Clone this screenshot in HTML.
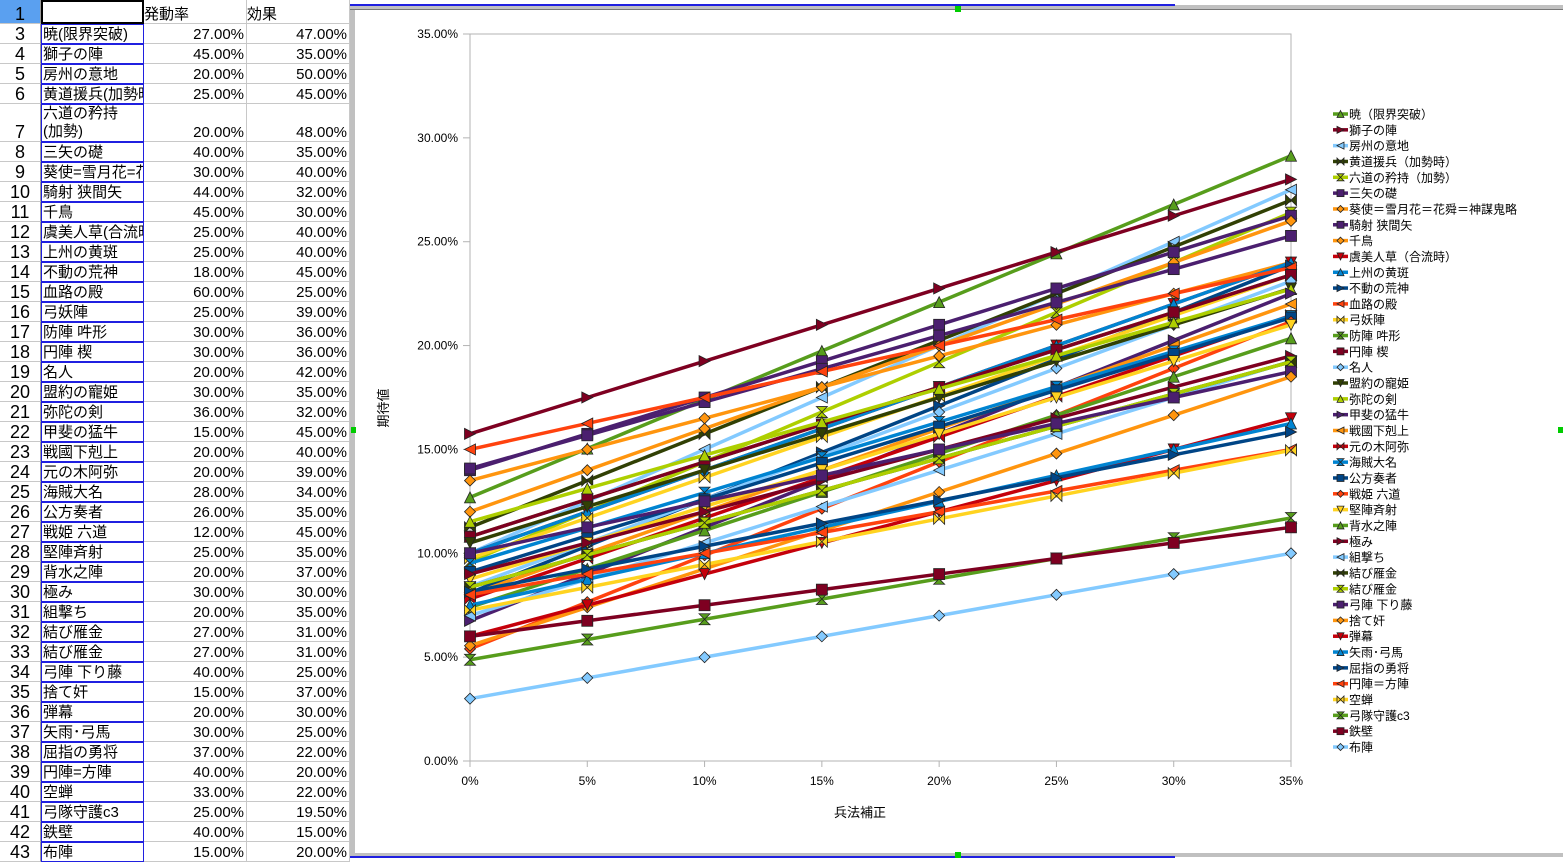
<!DOCTYPE html>
<html><head><meta charset="utf-8"><style>
body{margin:0;width:1563px;height:863px;overflow:hidden;background:#fff;font-family:"Liberation Sans","Noto Sans CJK JP",sans-serif;position:relative}
.c{position:absolute;box-sizing:border-box;font-size:15px;line-height:17px;white-space:nowrap;overflow:hidden;border-right:1px solid #c8c8c8;border-bottom:1px solid #c8c8c8;display:flex;align-items:flex-end}
.rh{justify-content:center;font-size:18px;background:#fff;color:#000;border-right:1px solid #999}
.a{border:1.5px solid #2020e0;padding-left:1px}
.n{justify-content:flex-end;padding-right:2px}
</style></head><body>
<div id="sheet"></div>
<svg id="ch" width="1563" height="863" style="position:absolute;left:0;top:0" font-family="Liberation Sans, Noto Sans CJK JP, sans-serif"></svg>
<script>
const D=[["暁(限界突破)",27,47,"暁(限界突破)"],["獅子の陣",45,35,"獅子の陣"],["房州の意地",20,50,"房州の意地"],["黄道援兵(加勢時)",25,45,"黄道援兵(加勢時)"],["六道の矜持(加勢)",20,48,"六道の矜持<br>(加勢)"],["三矢の礎",40,35],["葵使＝雪月花＝花舜＝神謀鬼略",30,40,"葵使=雪月花=花舜"],["騎射 狭間矢",44,32],["千鳥",45,30],["虞美人草(合流時)",25,40,"虞美人草(合流時)"],["上州の黄斑",25,40],["不動の荒神",18,45],["血路の殿",60,25],["弓妖陣",25,39],["防陣 吽形",30,36],["円陣 楔",30,36],["名人",20,42],["盟約の寵姫",30,35],["弥陀の剣",36,32],["甲斐の猛牛",15,45],["戦國下剋上",20,40],["元の木阿弥",20,39],["海賊大名",28,34],["公方奏者",26,35],["戦姫 六道",12,45],["堅陣斉射",25,35],["背水之陣",20,37],["極み",30,30],["組撃ち",20,35],["結び雁金",27,31],["結び雁金",27,31],["弓陣 下り藤",40,25],["捨て奸",15,37],["弾幕",20,30],["矢雨･弓馬",30,25],["屈指の勇将",37,22],["円陣＝方陣",40,20,"円陣=方陣"],["空蝉",33,22],["弓隊守護c3",25,19.5],["鉄壁",40,15],["布陣",15,20]];
const P=["#004586","#ff420e","#ffd320","#579d1c","#7e0021","#83caff","#314004","#aecf00","#4b1f6f","#ff950e","#c5000b","#0084d1"];
let h="";
h+=`<div class="c rh" style="left:0;top:0;width:41px;height:24px;background:#5aa0f0">1</div>`;
h+=`<div class="c" style="left:41px;top:0;width:103px;height:24px;border:2px solid #000"></div>`;
h+=`<div class="c" style="left:144px;top:0;width:103px;height:24px">発動率</div>`;
h+=`<div class="c" style="left:247px;top:0;width:103px;height:24px">効果</div>`;
let y=24;
D.forEach((d,i)=>{const r=i+3;const ht=r==7?38:20;
h+=`<div class="c rh" style="left:0;top:${y}px;width:41px;height:${ht}px">${r}</div>`;
h+=`<div class="c a" style="left:41px;top:${y}px;width:103px;height:${ht}px;${r==7?'white-space:normal;line-height:18px':''}">${d[3]||d[0]}</div>`;
h+=`<div class="c n" style="left:144px;top:${y}px;width:103px;height:${ht}px">${d[1].toFixed(2)}%</div>`;
h+=`<div class="c n" style="left:247px;top:${y}px;width:103px;height:${ht}px">${d[2].toFixed(2)}%</div>`;
y+=ht;});
document.getElementById("sheet").innerHTML=h;
let s=`<rect x="350" y="5" width="1213" height="852" fill="#c0c0c0"/><rect x="355" y="10" width="1208" height="843" fill="#fff"/><line x1="350" y1="9.5" x2="1563" y2="9.5" stroke="#777"/><line x1="350" y1="5" x2="1175" y2="5" stroke="#2020e0" stroke-width="2"/><line x1="350" y1="857" x2="1175" y2="857" stroke="#2020e0" stroke-width="2"/>`;
const X0=470,X1=1291,Y0=761,Y1=34;
const px=b=>X0+(X1-X0)*b/35, py=v=>Y0-(Y0-Y1)*v/35;
s+=`<rect x="${X0}" y="${Y1}" width="${X1-X0}" height="${Y0-Y1}" fill="none" stroke="#b3b3b3"/>`;
for(let k=0;k<=7;k++){const v=k*5,yy=py(v);s+=`<line x1="463" y1="${yy}" x2="${X0}" y2="${yy}" stroke="#b3b3b3"/><text x="458" y="${yy+4}" font-size="12" text-anchor="end">${v.toFixed(2)}%</text>`;
const xx=px(v);s+=`<line x1="${xx}" y1="${Y0}" x2="${xx}" y2="${Y0+6}" stroke="#b3b3b3"/><text x="${xx}" y="785" font-size="12" text-anchor="middle">${v}%</text>`;}
s+=`<text x="860" y="817" font-size="13" text-anchor="middle">兵法補正</text><text transform="translate(388,408) rotate(-90)" font-size="13" text-anchor="middle">期待値</text>`;
function col(i){if(i<=6)return P[(i+3)%12];if(i==7)return "#4b1f6f";if(i==8)return "#ff950e";return P[(i+1)%12];}
function shp(i){if(i<=6)return (i+3)%8;if(i==7)return 0;if(i==8)return 1;return (i+1)%8;}
function mk(t,x,y,c,r){r=r||5;let p;
if(t==0)return `<rect x="${x-r}" y="${y-r}" width="${2*r}" height="${2*r}" fill="${c}" stroke="#222" stroke-width="0.8"/>`;
if(t==1)p=[[x,y-r],[x+r,y],[x,y+r],[x-r,y]];
if(t==2)p=[[x-r,y-r],[x+r,y-r],[x,y+r]];
if(t==3)p=[[x-r,y+r],[x+r,y+r],[x,y-r]];
if(t==4)p=[[x-r,y-r],[x+r,y],[x-r,y+r]];
if(t==5)p=[[x+r,y-r],[x-r,y],[x+r,y+r]];
if(t==6)p=[[x-r,y-r],[x+r,y+r],[x+r,y-r],[x-r,y+r]];
if(t==7)p=[[x-r,y-r],[x+r,y-r],[x-r,y+r],[x+r,y+r]];
return `<polygon points="${p.map(q=>q.join(',')).join(' ')}" fill="${c}" stroke="#222" stroke-width="0.8"/>`;}
D.forEach((d,i)=>{const c=col(i),t=shp(i);let pts=[];for(let b=0;b<=35;b+=5){pts.push([px(b),py((d[1]+b)*d[2]/100)]);}
s+=`<polyline points="${pts.map(q=>q.join(',')).join(' ')}" fill="none" stroke="${c}" stroke-width="3.5"/>`;
pts.forEach(q=>s+=mk(t,q[0],q[1],c,5.5));});
D.forEach((d,i)=>{const c=col(i),yy=114+i*15.825;
s+=`<line x1="1333" y1="${yy}" x2="1348" y2="${yy}" stroke="${c}" stroke-width="3.5"/>`+mk(shp(i),1340.5,yy,c,3.5)+`<text x="1349" y="${yy+4.5}" font-size="12">${d[0].replace(/\(/g,'（').replace(/\)/g,'）')}</text>`;});
s+=`<rect x="955" y="6" width="6" height="6" fill="#0c0"/><rect x="955" y="852" width="6" height="6" fill="#0c0"/><rect x="351" y="427" width="5" height="6" fill="#0c0"/><rect x="1558" y="427" width="5" height="6" fill="#0c0"/>`;
document.getElementById("ch").innerHTML=s;
</script>
</body></html>
